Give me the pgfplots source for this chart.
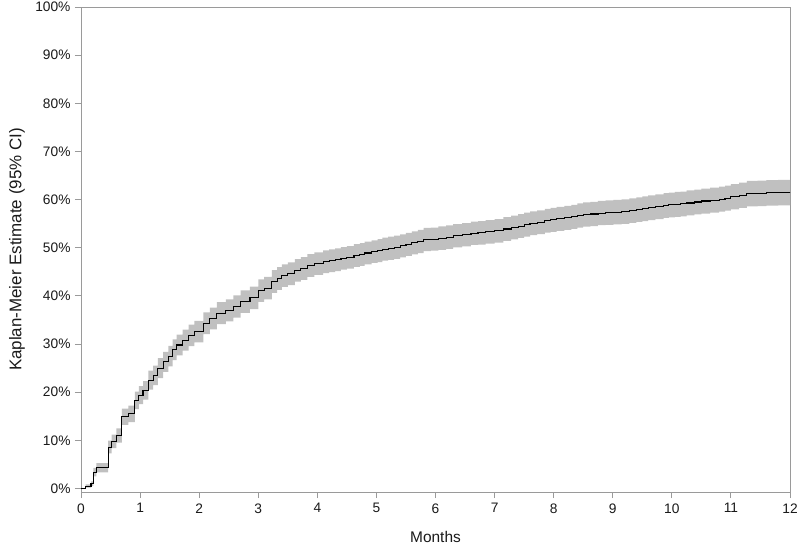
\documentclass[border=0pt]{standalone}
\usepackage{fontspec}
\setmainfont{Liberation Sans}
\usepackage{pgfplots}
\pgfplotsset{compat=1.18}
\usepgfplotslibrary{fillbetween}
\usepackage{pgfplotstable}
\definecolor{axgray}{HTML}{9A9A9A}
\definecolor{bandgray}{HTML}{C0C0C0}
\definecolor{txt}{HTML}{1A1A1A}

\pgfplotstableread{
t est lo hi
0.00 0.0 0.0 0.0
0.08 0.5 0.16 0.84
0.17 1.0 0.53 1.47
0.21 3.4 2.54 4.26
0.26 4.3 3.34 5.26
0.46 8.6 7.27 9.93
0.52 9.8 8.39 11.21
0.60 11.0 9.51 12.49
0.69 14.9 13.21 16.59
0.80 15.5 13.78 17.22
0.91 18.3 16.46 20.14
0.98 19.4 17.52 21.28
1.05 20.4 18.48 22.32
1.14 22.5 20.51 24.49
1.22 23.5 21.48 25.52
1.30 25.0 22.94 27.06
1.39 26.3 24.21 28.39
1.48 27.5 25.38 29.62
1.55 28.8 26.65 30.95
1.62 29.8 27.63 31.97
1.72 30.8 28.61 32.99
1.82 31.8 29.59 34.01
1.92 32.6 30.37 34.83
2.07 34.3 32.04 36.56
2.18 35.3 33.03 37.57
2.30 36.4 34.11 38.69
2.45 37.0 34.70 39.30
2.58 37.8 35.49 40.11
2.70 38.8 36.48 41.12
2.86 39.6 37.27 41.93
3.00 41.1 38.75 43.45
3.10 41.6 39.25 43.95
3.23 43.0 40.65 45.35
3.32 43.6 41.25 45.95
3.40 44.2 41.85 46.55
3.50 44.6 42.25 46.95
3.62 45.3 42.95 47.65
3.72 45.7 43.35 48.05
3.83 46.3 43.95 48.65
3.95 46.7 44.35 49.05
4.10 47.1 44.75 49.45
4.20 47.3 44.95 49.65
4.30 47.5 45.15 49.85
4.40 47.8 45.45 50.15
4.50 48.0 45.65 50.35
4.62 48.4 46.05 50.75
4.72 48.6 46.25 50.95
4.80 48.9 46.55 51.25
4.92 49.2 46.85 51.55
5.02 49.4 47.00 51.80
5.10 49.7 47.30 52.10
5.20 49.9 47.50 52.30
5.30 50.1 47.70 52.50
5.40 50.4 48.00 52.80
5.50 50.7 48.30 53.10
5.60 51.0 48.60 53.40
5.70 51.3 48.90 53.70
5.80 51.7 49.30 54.10
5.92 51.8 49.40 54.20
6.05 52.0 49.58 54.42
6.18 52.2 49.78 54.62
6.30 52.5 50.08 54.92
6.45 52.7 50.27 55.13
6.60 53.0 50.57 55.43
6.72 53.1 50.66 55.54
6.85 53.3 50.86 55.74
7.00 53.5 51.05 55.95
7.15 53.9 51.45 56.35
7.28 54.2 51.74 56.66
7.40 54.5 52.04 56.96
7.50 54.8 52.33 57.27
7.60 55.1 52.63 57.57
7.72 55.3 52.82 57.78
7.85 55.6 53.12 58.08
7.95 55.8 53.31 58.29
8.05 56.0 53.50 58.50
8.18 56.2 53.70 58.70
8.30 56.4 53.90 58.90
8.40 56.7 54.19 59.21
8.50 56.9 54.39 59.41
8.62 57.0 54.48 59.52
8.75 57.2 54.68 59.72
8.88 57.3 54.77 59.83
9.01 57.4 54.87 59.93
9.15 57.5 54.96 60.04
9.28 57.7 55.16 60.24
9.40 57.9 55.35 60.45
9.50 58.1 55.55 60.65
9.60 58.3 55.74 60.86
9.72 58.5 55.94 61.06
9.86 58.75 56.18 61.32
9.95 58.9 56.33 61.47
10.05 59.0 56.42 61.58
10.15 59.1 56.52 61.68
10.25 59.3 56.71 61.89
10.38 59.5 56.91 62.09
10.50 59.7 57.10 62.30
10.65 59.9 57.30 62.50
10.80 60.1 57.49 62.71
10.90 60.3 57.69 62.91
11.00 60.6 57.98 63.22
11.14 60.9 58.27 63.53
11.27 61.25 58.61 63.89
11.45 61.3 58.66 63.94
11.60 61.4 58.75 64.05
11.80 61.45 58.80 64.10
12.00 61.5 58.85 64.15
}\kmtable

\begin{document}
\begin{tikzpicture}
\begin{axis}[
  scale only axis,
  width=709bp, height=485bp,
  xmin=0, xmax=12, ymin=-0.73, ymax=100,
  xtick={0,1,...,12}, ytick={0,10,...,100},
  yticklabel={\pgfmathprintnumber{\tick}\%},
  /pgf/number format/assume math mode=true,
  axis line style={axgray, line width=0.9bp},
  tick style={axgray, line width=0.9bp},
  tick align=outside, major tick length=6bp,
  xtick pos=bottom, ytick pos=left,
  ticklabel style={font=\fontsize{13.8}{16}\selectfont, text=txt},
  xticklabel style={yshift=-2bp},
  yticklabel style={xshift=-1bp},
  xlabel={Months}, ylabel={Kaplan-Meier Estimate (95\% CI)},
  every axis x label/.style={at={([yshift=-45bp]axis description cs:0.5,0)}, anchor=center, font=\fontsize{15.5}{18}\selectfont, text=txt},
  every axis y label/.style={at={([xshift=-64bp]axis description cs:0,0.5)}, rotate=90, anchor=center, font=\fontsize{17}{20}\selectfont, text=txt},
  clip=true,
]
\addplot[name path=upper, draw=none, const plot] table[x=t, y=hi] {\kmtable};
\addplot[name path=lower, draw=none, const plot] table[x=t, y=lo] {\kmtable};
\addplot[bandgray, draw=none] fill between[of=upper and lower];
\addplot[black, line width=1.1bp, const plot] table[x=t, y=est] {\kmtable};
\end{axis}
\pgfresetboundingbox
\path[use as bounding box] ([xshift=-81bp,yshift=-54bp]current axis.south west) rectangle ([xshift=10bp,yshift=7bp]current axis.north east);
\end{tikzpicture}
\end{document}
